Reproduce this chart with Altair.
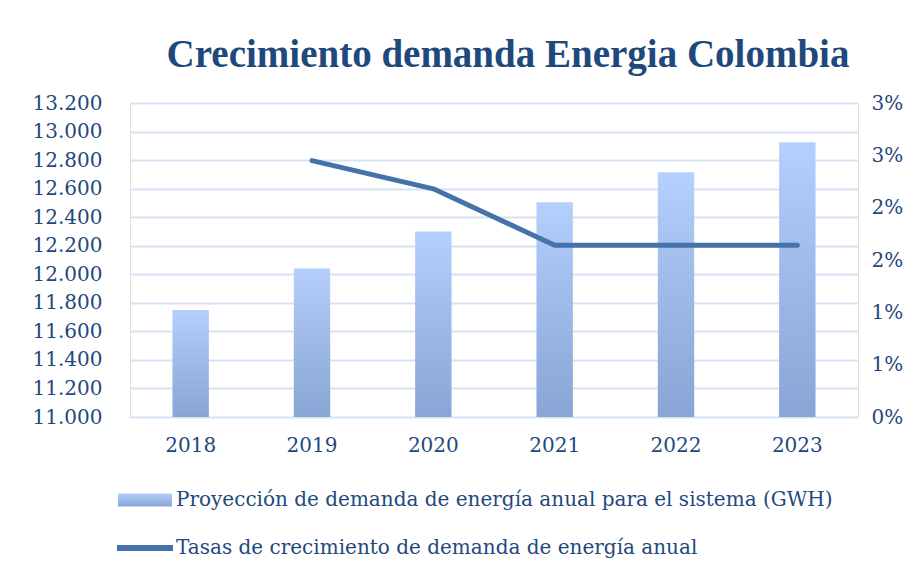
import altair as alt
import pandas as pd

years = ["2018", "2019", "2020", "2021", "2022", "2023"]
demand = [11750, 12040, 12300, 12505, 12715, 12925]
growth = [None, 0.0245, 0.0218, 0.0164, 0.0164, 0.0164]
left_ticks = [11000 + 200 * i for i in range(12)]
right_ticks = [0, 0.005, 0.01, 0.015, 0.02, 0.025, 0.03]
bar_label = "Proyección de demanda de energía anual para el sistema (GWH)"
line_label = "Tasas de crecimiento de demanda de energía anual"
title_text = "Crecimiento demanda Energia Colombia"

df = pd.DataFrame({"year": years, "demand": demand, "growth": growth})

TEXT = "#1F497D"
SERIF = "DejaVu Serif"
TSERIF = "Liberation Serif"
GRID = "#D6E3F5"

x = alt.X("year:N", title=None,
          scale=alt.Scale(paddingInner=0.7, paddingOuter=0.35),
          axis=alt.Axis(labelAngle=0, domain=False, ticks=False, labelPadding=18,
                        labelFont=SERIF, labelFontSize=20, labelColor=TEXT))

grad = alt.Gradient(gradient="linear",
                    stops=[alt.GradientStop(color="#B5D0FD", offset=0),
                           alt.GradientStop(color="#A2BDEB", offset=0.4),
                           alt.GradientStop(color="#88A5D5", offset=1)],
                    x1=0, x2=0, y1=0, y2=1)

bars = alt.Chart(df).mark_bar(color=grad).encode(
    x=x,
    y=alt.Y("demand:Q", title=None,
            scale=alt.Scale(domain=[11000, 13200], nice=False, zero=False),
            axis=alt.Axis(values=left_ticks, domain=False, ticks=False, labelPadding=28,
                          labelFont=SERIF, labelFontSize=20, labelColor=TEXT,
                          gridColor=GRID, gridWidth=2,
                          labelExpr="replace(format(datum.value, ','), ',', '.')")),
    y2=alt.datum(11000),
    opacity=alt.Opacity("lbl:N", scale=alt.Scale(domain=[bar_label], range=[1]),
                        legend=alt.Legend(title=None, orient="none", legendX=-12, legendY=370,
                                          padding=0,
                                          symbolType="M-1,-0.24L1,-0.24L1,0.24L-1,0.24Z",
                                          symbolSize=2916, symbolStrokeWidth=0,
                                          labelFont=SERIF, labelFontSize=20, labelColor=TEXT,
                                          labelLimit=900, labelOffset=4)),
).transform_calculate(lbl="'" + bar_label + "'")

line = alt.Chart(df).mark_line(strokeWidth=5, strokeCap="round", strokeJoin="round").encode(
    x=alt.X("year:N", bandPosition=0.5),
    y=alt.Y("growth:Q", title=None,
            scale=alt.Scale(domain=[0, 0.03], nice=False),
            axis=alt.Axis(orient="right", values=right_ticks, domain=False, ticks=False,
                          grid=False, labelPadding=13,
                          labelFont=SERIF, labelFontSize=20, labelColor=TEXT,
                          labelExpr="round(datum.value * 100) + '%'")),
    color=alt.Color("lbl:N", scale=alt.Scale(domain=[line_label], range=["#4672AA"]),
                    legend=alt.Legend(title=None, orient="none", legendX=-16, legendY=414,
                                      padding=0,
                                      symbolType="stroke", symbolSize=3136,
                                      symbolStrokeWidth=6,
                                      labelFont=SERIF, labelFontSize=20, labelColor=TEXT,
                                      labelLimit=900, labelOffset=0)),
).transform_filter("datum.growth != null").transform_calculate(lbl="'" + line_label + "'")

chart = alt.layer(bars, line).resolve_scale(y="independent").properties(
    width=728, height=314,
    autosize=alt.AutoSizeParams(type="none"),
    padding={"left": 122, "top": 95, "right": 56, "bottom": 149},
    title=alt.Title(title_text, font=TSERIF, fontSize=39, fontWeight="bold",
                    color=TEXT, anchor="middle", dx=14, offset=18),
).configure_view(stroke=None).configure(background="white")

chart.save("out.html", embed_options={"renderer": "svg", "actions": False})
